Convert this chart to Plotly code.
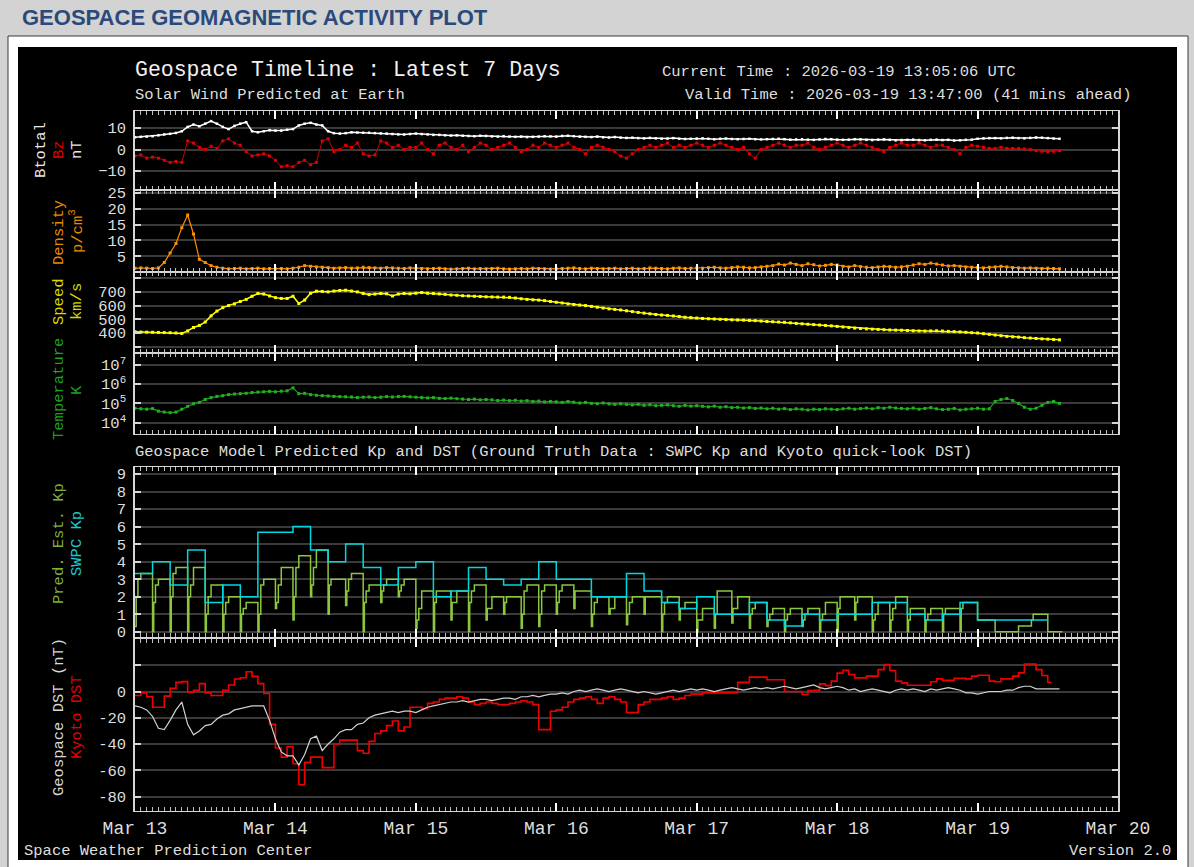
import pandas as pd
import plotly.graph_objects as go

# ---------------- data ----------------
START = "2026-03-13 00:00"
END = "2026-03-20 00:00"

# hourly solar-wind samples, hour 0 = Mar 13 00:00 UT
sw_hours = list(range(159))

bt = [5.7, 5.9, 6.0, 6.2, 6.6, 7.0, 7.3, 7.7, 8.5, 10.5, 11.6, 10.8,
      12.0, 13.2, 12.0, 10.5, 9.5, 11.0, 12.0, 12.7, 8.5, 8.0, 8.5, 9.0,
      8.8, 8.8, 9.2, 9.5, 11.2, 12.0, 12.4, 11.6, 11.2, 8.5, 7.6, 7.4,
      7.6, 8.0, 7.9, 7.8, 7.8, 7.6, 7.5, 7.4, 7.2, 7.0, 7.0, 7.2,
      7.4, 7.2, 7.0, 6.8, 6.8, 6.6, 6.5, 6.6, 6.4, 6.3, 6.2, 6.4,
      6.3, 6.1, 6.0, 6.2, 6.0, 5.9, 6.0, 5.8, 5.9, 6.0, 6.2, 6.1,
      6.0, 6.3, 6.4, 6.2, 6.0, 5.9, 5.8, 6.0, 5.7, 5.6, 5.8, 5.5,
      5.4, 5.5, 5.3, 5.2, 5.4, 5.2, 5.0, 5.1, 5.3, 5.0, 4.9, 5.0,
      5.1, 5.2, 5.0, 4.8, 5.0, 5.1, 4.9, 4.8, 4.9, 5.0, 4.8, 4.7,
      4.8, 4.9, 5.0, 4.8, 4.6, 4.7, 4.8, 4.6, 4.5, 4.7, 4.9, 4.8,
      4.6, 4.5, 4.6, 4.8, 4.7, 4.5, 4.4, 4.6, 4.7, 4.5, 4.3, 4.4,
      4.5, 4.6, 4.4, 4.3, 4.5, 4.6, 4.4, 4.5, 4.2, 4.3, 4.5, 4.6,
      5.0, 5.2, 5.3, 5.3, 5.2, 5.4, 5.5, 5.3, 5.2, 5.4, 5.6, 5.5,
      5.3, 5.1, 5.0]

bz = [-3, -2.5, -4, -3.5, -4, -5, -6, -5.5, -6, 4, 3, 1,
      0, 1.5, 0.5, 4, 5, 3, 2, -1, -3, -2.5, -2, -3,
      -5, -8, -7.5, -8, -6, -5, -7, -6, 4, 5, -1, 0,
      2, 1, 3, -2, -3, -2.5, 4, 3, 1, 2, 0, 1,
      1, 3, 0, -2, 2, 3, 1, 0, 2, -1, 1, 3,
      2, 0, 1, 2, 3, 1, -1, 0, 2, 1, 3, 2,
      1, 2, 3, 1, 0, -2, 1, 2, 1, 0, -1, -3,
      -4, -2, 0, 1, 2, 1, 2, 3, 1, 2, 1, 2,
      3, 2, 1, 2, 3, 2, 1, 0, 1, -2, -4, 0,
      1, 2, 3, 2, 1, 2, 2, 3, 1, 0, 1, 2,
      3, 2, 1, 2, 3, 2, 1, 0, -1, 1, 2, 3,
      2, 2, 3, 2, 1, 2, 2, 1, 0, -2, 1, 2,
      1.5, 1, 0.5, 0.5, 1, 0.5, 0.5, 0.5, 0.3, 0, -0.5, -0.8,
      -1, -0.8, -0.5]

density = [1.2, 1.3, 1.2, 1.1, 1.3, 3, 6, 9, 14, 18, 12, 4,
           3, 2, 1.5, 1.2, 1.0, 1.1, 1.2, 1.0, 1.1, 1.2, 1.0, 1.1,
           1.0, 1.1, 1.0, 1.2, 1.5, 2.0, 1.8, 1.6, 1.5, 1.4, 1.2, 1.3,
           1.4, 1.2, 1.3, 1.5, 1.4, 1.3, 1.2, 1.4, 1.3, 1.2, 1.1, 1.3,
           1.2, 1.1, 1.0, 1.1, 1.2, 1.0, 0.9, 1.0, 1.1, 1.2, 1.0, 1.1,
           1.0, 1.1, 1.2, 1.0, 0.9, 1.0, 1.1, 1.0, 1.2, 1.1, 1.0, 0.9,
           1.0, 1.1, 1.2, 1.3, 1.1, 1.0, 1.2, 1.1, 1.0, 1.1, 1.2, 1.0,
           1.1, 1.2, 1.0, 1.1, 1.3, 1.2, 1.1, 1.0, 1.2, 1.3, 1.1, 1.2,
           1.3, 1.2, 1.4, 1.5, 1.3, 1.2, 1.4, 1.6, 1.5, 1.3, 1.4, 1.6,
           1.8, 2.0, 2.5, 2.2, 2.8, 2.4, 2.0, 2.6, 2.3, 1.9, 2.1, 2.4,
           2.2, 1.8, 1.6, 2.0, 1.7, 1.5, 1.4, 1.6, 1.8, 1.7, 1.5, 1.6,
           1.8, 2.2, 2.6, 2.4, 2.8, 2.5, 2.2, 1.9, 2.0, 1.8, 1.6, 1.5,
           1.4, 1.3, 1.5, 1.6, 1.8, 1.6, 1.4, 1.3, 1.2, 1.3, 1.2, 1.1,
           1.2, 1.1, 1.0]

speed = [409, 407, 406, 405, 404, 403, 402, 400, 397, 415, 440, 455,
         480, 525, 560, 585, 600, 612, 630, 645, 668, 688, 684, 670,
         658, 652, 652, 668, 615, 640, 690, 705, 703, 700, 706, 710,
         712, 706, 700, 688, 680, 684, 688, 686, 670, 684, 688, 686,
         690, 695, 690, 688, 685, 682, 677, 675, 672, 670, 668, 666,
         664, 663, 662, 662, 660, 655, 650, 645, 642, 640, 636, 630,
         624, 619, 612, 608, 604, 600, 594, 588, 582, 576, 572, 568,
         562, 556, 550, 545, 540, 535, 531, 528, 524, 520, 515, 512,
         509, 506, 504, 502, 500, 498, 496, 495, 494, 492, 490, 487,
         484, 482, 480, 478, 474, 470, 467, 464, 461, 458, 455, 452,
         448, 444, 440, 436, 433, 430, 428, 426, 424, 422, 421, 420,
         418, 416, 415, 414, 415, 416, 414, 412, 410, 408, 405, 402,
         400, 395, 390, 385, 380, 375, 372, 370, 366, 363, 360, 357,
         355, 352, 350]

temp_log10 = [4.75, 4.72, 4.70, 4.73, 4.60, 4.55, 4.52, 4.55, 4.70, 4.85, 4.98, 5.05,
              5.20, 5.30, 5.36, 5.40, 5.45, 5.48, 5.50, 5.52, 5.56, 5.58, 5.60, 5.62,
              5.60, 5.63, 5.65, 5.80, 5.50, 5.52, 5.45, 5.42, 5.40, 5.38, 5.36, 5.35,
              5.34, 5.33, 5.30, 5.32, 5.33, 5.30, 5.32, 5.35, 5.33, 5.35, 5.36, 5.34,
              5.32, 5.30, 5.28, 5.30, 5.26, 5.25, 5.27, 5.24, 5.22, 5.20, 5.22, 5.18,
              5.20, 5.18, 5.15, 5.17, 5.14, 5.16, 5.12, 5.14, 5.10, 5.12, 5.08, 5.10,
              5.08, 5.05, 5.10, 5.06, 5.02, 5.05, 5.00, 4.98, 5.02, 4.97, 4.95, 4.98,
              4.95, 4.92, 4.95, 4.90, 4.93, 4.88, 4.90, 4.92, 4.88, 4.85, 4.90, 4.86,
              4.88, 4.85, 4.82, 4.86, 4.80, 4.83, 4.78, 4.80, 4.76, 4.78, 4.74, 4.76,
              4.72, 4.75, 4.70, 4.73, 4.68, 4.72, 4.70, 4.66, 4.70, 4.68, 4.72, 4.70,
              4.68, 4.72, 4.75, 4.70, 4.73, 4.76, 4.72, 4.78, 4.75, 4.80, 4.76, 4.74,
              4.72, 4.76, 4.70, 4.74, 4.78, 4.72, 4.68, 4.70, 4.74, 4.66, 4.70, 4.72,
              4.75, 4.70, 4.72, 5.10, 5.20, 5.25, 5.15, 5.00, 4.80, 4.70, 4.75, 4.90,
              5.05, 5.10, 5.00]

# SWPC Kp, 3-hour blocks starting Mar 13 00 UT
swpc_kp = [3.33, 4.0, 2.67, 4.67, 1.67, 2.67, 2.0, 5.67,
           5.67, 6.0, 4.67, 4.0, 5.0, 3.67, 2.67, 3.67,
           4.0, 2.0, 2.33, 3.67, 3.0, 2.67, 3.0, 4.0,
           3.0, 3.0, 2.0, 2.0, 3.33, 2.33, 1.67, 1.33,
           2.0, 1.0, 1.0, 1.67, 0.67, 0.33, 1.0, 0.67,
           1.0, 1.0, 1.67, 1.67, 1.0, 0.67, 1.0, 1.67,
           0.67, 0.67, 0.67, 0.67]

# Geospace predicted (estimated) Kp: per 3-hour block, values after
# 0, 0.2, 0.5 and 1.0 hours into the block
pred_kp_offsets = [0.0, 0.2, 0.5, 1.0]
pred_kp = [[0.3, 2.0, 3.0, 3.33], [0, 1.67, 2.67, 3.0], [0, 2.0, 3.33, 3.67], [0, 2.0, 2.67, 3.67],
           [0, 1.0, 2.0, 2.67], [0, 1.0, 1.67, 2.0], [0, 1.0, 1.33, 1.67], [0, 1.0, 2.67, 3.0],
           [1.33, 1.67, 2.67, 3.67], [0.67, 2.0, 3.67, 4.33], [2.0, 2.67, 3.67, 4.67], [1.0, 2.67, 3.0, 3.0],
           [1.5, 2.33, 3.0, 3.33], [0, 1.67, 2.33, 2.67], [1.67, 2.33, 2.67, 3.0], [2.0, 2.33, 2.67, 3.0],
           [0.2, 0.67, 1.33, 2.33], [0, 1.67, 2.33, 2.33], [0.67, 1.67, 1.67, 2.33], [0, 1.67, 2.33, 2.67],
           [0.67, 1.33, 1.33, 2.0], [1.0, 1.67, 2.0, 2.0], [0.2, 1.0, 2.33, 2.67], [0.3, 1.0, 2.33, 2.67],
           [1.0, 1.67, 2.33, 2.67], [1.33, 2.33, 2.33, 2.33], [0.3, 1.0, 1.67, 2.0], [1.0, 1.33, 1.33, 2.0],
           [0.4, 1.0, 1.67, 2.0], [1.0, 2.0, 2.0, 2.0], [0, 1.0, 1.67, 2.0], [0.67, 1.33, 1.33, 1.67],
           [0, 0.67, 0.67, 1.33], [0.2, 1.0, 2.33, 2.33], [0.5, 1.33, 1.33, 2.0], [0.2, 1.0, 1.33, 1.67],
           [0.3, 0.67, 1.0, 1.33], [0, 0.67, 1.0, 1.33], [0.3, 0.67, 1.0, 1.33], [0, 0.67, 1.0, 1.67],
           [0, 1.33, 2.0, 2.0], [0.67, 1.67, 2.0, 2.0], [0, 0.67, 1.0, 1.67], [0, 0.67, 1.33, 2.0],
           [0, 0.67, 1.33, 1.33], [0, 0.67, 1.0, 1.33], [0, 1.0, 1.33, 1.33], [0, 1.33, 1.67, 1.67],
           [0.67, 0.67, 0.67, 0.67], [0, 0, 0, 0], [0, 0, 0, 0.33], [0.33, 0.67, 1.0, 1.0],
           [0, 0, 0, 0]]
pred_kp_end_hour = 158.5

# Geospace model DST, hourly
geo_dst = [-11, -12, -14, -19, -28, -29, -22, -14, -8, -25, -33, -30,
           -26, -25, -21, -18, -17, -14, -13, -12, -11, -11, -11, -22,
           -36, -46, -49, -49, -56, -48, -36, -34, -45, -40, -36, -31,
           -29, -29, -25, -24, -20, -18, -17, -16, -15, -16, -15, -15,
           -16, -14, -12, -11, -10, -9, -8, -8, -7, -8, -7, -6,
           -6, -7, -6, -5, -5, -6, -4, -4, -3, -4, -3, -2,
           -2, -1, -2, 0, 1, 0, 1, 2, 1, 0, 1, 2,
           1, 0, -1, 0, -1, -2, -1, 0, 1, 0, 1, 2,
           1, 2, 1, 0, 1, 2, 3, 2, 1, 2, 3, 2,
           3, 2, 3, 4, 3, 2, 3, 4, 5, 3, 2, 3,
           4, 3, 1, 2, 0, 1, 2, 1, 0, -1, 1, 2,
           1, 2, 1, 0, 2, 1, 2, 3, 2, 1, -1, -1,
           -2, -1, 0, 0, 0, 1, 1, 3, 4, 4, 2, 2,
           2, 2, 2]

# Kyoto quick-look DST, hourly steps
kyoto_dst = [-3, -1, -4, -12, -12, -3.5, 2.5, 7, 7.5, -0.5, 1, 6,
             -1, -3, -3, 1, 5, 9.5, 10.5, 15, 11.5, 6, -1.5, -25,
             -43, -50, -42, -55, -71, -54, -50, -50, -58, -58, -40, -37,
             -37, -37, -45, -47, -38, -32, -30, -26, -22.5, -30, -27, -12,
             -12, -13, -9, -8, -6, -5, -5, -4, -5, -8, -10, -9,
             -8, -9, -10, -10, -9, -8, -7, -8, -10, -29, -29, -15,
             -14, -12, -8, -6, -5, -4, -6, -9, -5, -4, -6, -8,
             -16, -16, -10, -8, -6, -6, -5, -4, -6, -5, -3, -2,
             -2, -1, -1, -1, -1, -1, -1, 7, 7, 11, 11, 11,
             9, 9, 9, 0, 0, 0, -2.3, 0.8, 1, 5.8, 4.5, 7.9,
             14, 16.2, 13, 10.4, 10.4, 11.7, 11.7, 16.7, 20.5, 16, 7.9, 6.6,
             4.8, 4.8, 4.8, 4.8, 7.4, 9.6, 8.5, 8.5, 10.1, 10.1, 9.6, 11.7,
             12.4, 12.4, 7.9, 7.4, 9.6, 9.6, 11.7, 14.2, 21, 21, 16.7, 12.2,
             7.1]
kyoto_end_hour = 156.6

# ---------------- helpers ----------------
W, H = 1194, 867
T0 = pd.Timestamp(START)


def tt(hours):
    return [T0 + pd.Timedelta(hours=float(h)) for h in hours]


def px(x):
    return x / W


def py(y):
    return 1 - y / H


MONO = "Liberation Mono, DejaVu Sans Mono, monospace"
AXC = "#d6d6d6"
GRID = "#3a3a3a"
TXT = "#dedede"

fig = go.Figure()

# panel 1: Btotal / Bz
fig.add_trace(go.Scatter(x=tt(sw_hours), y=bz, mode="lines+markers",
                         line=dict(color="#c80000", width=1),
                         marker=dict(color="#e00000", size=3, symbol="square"),
                         xaxis="x", yaxis="y", showlegend=False))
fig.add_trace(go.Scatter(x=tt(sw_hours), y=bt, mode="lines+markers",
                         line=dict(color="#ffffff", width=1.5),
                         marker=dict(color="#ffffff", size=2.5, symbol="square"),
                         xaxis="x", yaxis="y", showlegend=False))
# panel 2: density
fig.add_trace(go.Scatter(x=tt(sw_hours), y=density, mode="lines+markers",
                         line=dict(color="#ff8c00", width=1.2),
                         marker=dict(color="#ff9000", size=3, symbol="square"),
                         xaxis="x2", yaxis="y2", showlegend=False))
# panel 3: speed
fig.add_trace(go.Scatter(x=tt(sw_hours), y=speed, mode="lines+markers",
                         line=dict(color="#ffff00", width=1.5),
                         marker=dict(color="#ffff00", size=3, symbol="square"),
                         xaxis="x3", yaxis="y3", showlegend=False))
# panel 4: temperature
fig.add_trace(go.Scatter(x=tt(sw_hours), y=[10 ** v for v in temp_log10], mode="lines+markers",
                         line=dict(color="#1aa01a", width=1.2),
                         marker=dict(color="#22b022", size=3, symbol="square"),
                         xaxis="x4", yaxis="y4", showlegend=False))

# panel 5: Kp
pk_h, pk_v = [], []
for k, block in enumerate(pred_kp):
    for off, v in zip(pred_kp_offsets, block):
        pk_h.append(3 * k + off)
        pk_v.append(v)
pk_h.append(pred_kp_end_hour)
pk_v.append(pred_kp[-1][-1])
fig.add_trace(go.Scatter(x=tt(pk_h), y=pk_v, mode="lines", line=dict(color="#8cc63f", width=1.5, shape="hv"),
                         xaxis="x5", yaxis="y5", showlegend=False))
sk_h = [3 * k for k in range(len(swpc_kp))] + [3 * len(swpc_kp)]
sk_v = swpc_kp + [swpc_kp[-1]]
fig.add_trace(go.Scatter(x=tt(sk_h), y=sk_v, mode="lines", line=dict(color="#00d8e0", width=1.5, shape="hv"),
                         xaxis="x5", yaxis="y5", showlegend=False))

# panel 6: DST
ky_h = list(range(len(kyoto_dst))) + [kyoto_end_hour]
ky_v = kyoto_dst + [kyoto_dst[-1]]
fig.add_trace(go.Scatter(x=tt(ky_h), y=ky_v, mode="lines", line=dict(color="#ee0000", width=1.6, shape="hv"),
                         xaxis="x6", yaxis="y6", showlegend=False))
fig.add_trace(go.Scatter(x=tt(sw_hours), y=geo_dst, mode="lines", line=dict(color="#d0d0d0", width=1.2),
                         xaxis="x6", yaxis="y6", showlegend=False))

# ---------------- axes ----------------
panels = {1: (111, 190), 2: (190, 272), 3: (272, 353), 4: (353, 434), 5: (467, 637), 6: (639, 811)}
xd = [px(135), px(1118)]

for i in range(1, 7):
    top, bot = panels[i]
    xa = dict(type="date", range=[START, END], domain=xd, anchor="y" if i == 1 else f"y{i}",
              automargin=False,
              showgrid=False, zeroline=False, showline=True, linecolor=AXC, linewidth=1,
              mirror="allticks", ticks="inside", ticklen=8, tickwidth=1.5, tickcolor="#ffffff",
              dtick=86400000, tick0=START,
              minor=dict(dtick=3600000, ticklen=4, tickwidth=1, tickcolor="#c0c0c0", ticks="inside", showgrid=False),
              showticklabels=(i == 6), tickformat="%b %d",
              tickfont=dict(family=MONO, size=18, color=TXT))
    fig.layout["xaxis" if i == 1 else f"xaxis{i}"] = xa
    ya = dict(domain=[py(bot), py(top)], anchor="x" if i == 1 else f"x{i}",
              automargin=False,
              showgrid=True, gridcolor=GRID, gridwidth=1.5, zeroline=False,
              showline=True, linecolor=AXC, linewidth=1.5, mirror="allticks",
              ticks="inside", ticklen=6, tickwidth=1.5, tickcolor=AXC,
              tickfont=dict(family=MONO, size=15.5, color=TXT), ticklabelstandoff=4)
    fig.layout["yaxis" if i == 1 else f"yaxis{i}"] = ya

fig.update_layout(
    yaxis=dict(range=[-18.8, 17.9], tickvals=[-10, 0, 10]),
    yaxis2=dict(range=[0, 25.9], tickvals=[5, 10, 15, 20, 25]),
    yaxis3=dict(range=[254, 845], tickvals=[300, 400, 500, 600, 700, 800],
                ticktext=["", "400", "500", "600", "700", ""]),
    yaxis4=dict(type="log", range=[3.42, 7.6], tickvals=[1e4, 1e5, 1e6, 1e7],
                ticktext=["10<sup>4</sup>", "10<sup>5</sup>", "10<sup>6</sup>", "10<sup>7</sup>"]),
    yaxis5=dict(range=[-0.3, 9.4], tickvals=list(range(10))),
    yaxis6=dict(range=[-91, 40], tickvals=[-80, -60, -40, -20, 0, 20],
                ticktext=["-80", "-60", "-40", "-20", "0", ""]),
)

# ---------------- page chrome ----------------
shapes = [
    dict(type="rect", xref="paper", yref="paper", x0=px(8), x1=px(1188), y0=py(870), y1=py(36),
         fillcolor="#ffffff", line=dict(color="#3a3a3a", width=1), layer="below"),
    dict(type="rect", xref="paper", yref="paper", x0=px(18), x1=px(1177), y0=py(860), y1=py(47),
         fillcolor="#000000", line=dict(width=0), layer="below"),
]

ann = []


def text(x, y, s, size=15.5, color=TXT, xanchor="left", angle=0, family=MONO):
    ann.append(dict(x=px(x), y=py(y), xref="paper", yref="paper", text=s, showarrow=False,
                    xanchor=xanchor, yanchor="middle", textangle=angle,
                    font=dict(family=family, size=size, color=color)))


text(20, 18, "<b>GEOSPACE GEOMAGNETIC ACTIVITY PLOT</b>", size=22, color="#2a4a7c",
     family="Liberation Sans Narrow, Arial Narrow, Liberation Sans, Arial")
text(133, 70, "Geospace Timeline : Latest 7 Days", size=21.5, color="#f0f0f0")
text(133, 95, "Solar Wind Predicted at Earth", size=15.5)
text(660, 72, "Current Time : 2026-03-19 13:05:06 UTC", size=15.5)
text(1133, 95, "Valid Time : 2026-03-19 13:47:00 (41 mins ahead)", size=15.5, xanchor="right")
text(133, 452, "Geospace Model Predicted Kp and DST (Ground Truth Data : SWPC Kp and Kyoto quick-look DST)", size=15.5)
text(22, 851, "Space Weather Prediction Center", size=15.5)
text(1173, 851, "Version 2.0", size=15.5, xanchor="right")

# rotated axis titles
text(41, 150, "Btotal", color="#e8e8e8", xanchor="center", angle=-90)
text(59, 150, "Bz", color="#e00000", xanchor="center", angle=-90)
text(77, 150, "nT", color="#e8e8e8", xanchor="center", angle=-90)
text(59, 233, "Density", color="#e58a00", xanchor="center", angle=-90)
text(77, 231, "p/cm<sup>3</sup>", color="#e58a00", xanchor="center", angle=-90)
text(59, 302, "Speed", color="#d8d800", xanchor="center", angle=-90)
text(77, 302, "km/s", color="#d8d800", xanchor="center", angle=-90)
text(59, 389, "Temperature", color="#1fa01f", xanchor="center", angle=-90)
text(77, 390, "K", color="#1fa01f", xanchor="center", angle=-90)
text(59, 544, "Pred. Est. Kp", color="#7fb03a", xanchor="center", angle=-90)
text(77, 544, "SWPC Kp", color="#1cc8d0", xanchor="center", angle=-90)
text(59, 717, "Geospace DST (nT)", color="#d8d8d8", xanchor="center", angle=-90)
text(77, 717, "Kyoto DST", color="#e00000", xanchor="center", angle=-90)

fig.update_layout(width=W, height=H, margin=dict(l=0, r=0, t=0, b=0, pad=0, autoexpand=False),
                  paper_bgcolor="#d3d3d3", plot_bgcolor="#000000",
                  shapes=shapes, annotations=ann, showlegend=False)

fig.write_html("out.html", config={"displayModeBar": False},
               post_script="document.body.style.margin='0';document.body.style.overflow='hidden';")
